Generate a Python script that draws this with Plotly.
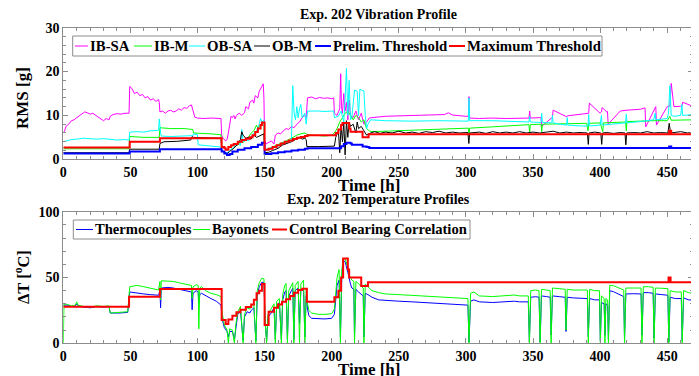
import plotly.graph_objects as go

# ---------------- Top: vibration RMS [g] ----------------
T_IBSA = [0,1,2,4,6,8,10,12,14,16,18,20,22,24,26,28,30,32,34,35,37,40,43,46,49,49.5,51,53,55,57,59,61,63,65,67,69,71,71.5,72,74,76,78,80,82,84,86,88,90,92,94,95.5,96,97,98,100,105,110,115,117.5,118,119,121,122,123,124,125,126,127,128,129,131,133,135,136,138,139,141,142,143,145,146,147,148,149,149.5,150,151,153,155,157,158,160,162,164,166,168,170,172,174,176,178,180,181,182,185,188,191,194,197,200,201.5,202,204,205,206,206.7,207.3,208,209,210,211,212,213,214,216,218,220,222,224,226,228,230,240,250,260,270,280,284,287,290,300,301.8,302.3,302.8,310,320,330,340,347,347.5,348,355,356,356.5,364,364.5,365,375,375.5,385,391,391.5,392,400,401,401.5,405,405.5,406,415,420,430,433,433.5,434,441,441.5,442,450,451,452,453,455,460,461,461.5,469]
V_IBSA = [6.0,6.5,7.5,8.0,8.8,9.0,9.5,10.0,10.5,10.8,10.6,10.3,10.5,10.0,9.5,9.2,8.8,9.3,9.0,9.8,10.2,10.4,10.3,10.5,10.5,16.6,16.2,15.0,15.3,14.5,14.8,14.0,14.3,13.5,13.8,13.2,13.6,13.0,10.8,11.0,10.5,11.0,11.2,10.8,11.0,11.5,11.2,11.8,11.6,12.2,12.4,11.8,11.0,9.6,9.4,9.3,9.4,9.3,9.3,5.5,4.8,4.2,4.5,6.0,7.5,9.8,9.5,10.0,9.2,10.0,10.5,10.0,10.6,12.0,11.5,13.0,13.5,12.8,14.5,14.0,15.5,16.0,16.5,17.2,14.0,4.5,3.5,3.8,4.2,3.5,5.5,6.0,5.8,6.5,7.0,6.8,7.5,7.2,8.0,8.5,9.5,10.0,9.5,14.0,14.2,13.8,14.1,13.9,14.0,13.8,14.0,10.5,10.0,10.8,11.5,19.5,12.0,10.5,15.0,11.0,13.0,9.0,13.5,10.0,9.5,11.0,9.0,10.5,8.0,8.5,9.4,9.5,9.8,9.9,10.0,10.1,10.2,10.2,10.6,10.1,9.8,9.8,14.3,9.4,9.3,9.4,9.3,9.4,9.4,11.0,9.4,9.5,9.5,7.5,9.5,9.6,11.2,9.7,9.9,10.3,10.4,10.5,12.8,10.5,10.8,11.8,10.8,10.9,8.0,11.0,11.2,11.4,11.7,11.7,7.4,11.8,12.0,7.8,12.0,12.1,12.1,17.3,12.0,12.1,12.1,13.0,12.1,12.2]

T_IBM = [0,49,49.5,60,71.5,72,80,90,96.5,97,110,117.5,118,120,122,124,126,128,130,132,134,136,138,140,142,144,145,146,148,149.5,150,153,156,160,163,166,170,174,177,180,182,190,195,200,202,204,206,208,210,212,214,216,218,220,222,224,226,228,230,250,270,300,301.8,302.3,302.8,320,344,347,347.5,348,356,356.5,357,370,390,391,391.5,400,402,402.5,419,419.5,420,440,450,452,453,469]
V_IBM = [2.4,2.4,5.2,5.0,5.0,7.2,7.0,7.0,6.8,6.0,5.8,5.6,3.0,2.6,2.2,2.8,3.0,3.5,3.2,4.0,3.8,4.5,5.0,6.0,6.5,7.8,7.0,7.5,8.0,8.5,2.2,2.4,2.8,3.3,3.8,4.2,4.8,5.5,5.8,6.0,5.6,5.4,5.3,5.5,6.0,7.0,8.5,9.5,10.5,11.0,10.0,9.0,10.0,9.5,8.5,9.0,7.0,6.5,6.3,6.5,6.8,7.1,7.1,5.5,7.1,7.4,7.8,7.9,6.0,7.9,8.0,6.3,8.0,8.1,8.2,6.5,8.2,8.3,6.3,8.3,8.5,6.5,8.6,8.8,8.8,9.8,8.9,9.0]

T_OBSA = [0,3,6,10,15,20,25,30,35,40,45,49,49.5,55,60,65,71,71.5,72.5,73,80,90,96.5,97,100,100.5,105,110,117.5,118,120,122,124,126,128,130,132,133,134,136,138,140,142,144,146,147,148,149.5,150,153,156,160,164,168,170,171,172,173,174,175,176,177,178,180,181,182,190,195,200,201.5,202,205,207,209,210,211,212,213,214,215,217,219,220,221,222,224,225,226,227,229,240,260,280,300,301.8,302.3,302.8,320,340,347,347.5,348,356,356.5,357,364,364.5,365,370,375,375.5,376,385,391,391.5,392,400,401,401.5,410,419,419.5,420,430,440,441,441.5,450,451,452,453,455,460,461,461.5,469]
V_OBSA = [4.0,4.3,4.5,4.6,4.8,4.7,4.6,4.7,4.5,4.4,4.5,4.4,6.2,6.3,6.2,6.5,6.6,9.2,6.0,5.3,5.2,5.3,5.4,5.8,5.6,3.3,3.2,3.0,2.8,2.0,1.6,1.4,2.0,2.5,3.0,3.5,3.2,6.8,4.0,4.5,4.2,5.0,6.0,6.5,8.0,9.3,8.5,9.0,2.0,2.3,2.8,3.0,3.5,4.0,4.5,16.8,10.5,9.0,12.0,9.5,11.5,12.5,9.5,10.5,8.0,11.0,11.0,10.9,11.0,11.0,9.5,9.8,11.0,8.5,14.0,20.7,10.0,18.0,9.0,9.5,15.8,15.5,10.0,16.0,15.8,15.6,10.0,7.0,8.0,9.0,8.8,8.7,8.8,8.7,8.7,14.0,8.8,8.8,8.6,8.5,9.8,8.5,8.4,10.5,8.4,8.3,10.0,8.3,8.0,7.8,9.5,7.8,7.6,7.6,10.2,7.6,7.8,10.0,7.8,8.0,8.3,10.3,8.3,8.6,9.0,10.5,9.0,9.3,10.5,16.8,10.0,9.8,10.0,12.5,10.0,10.2]

T_OBM = [0,49,49.5,71.5,72,75,85,95,96,97,105,117.5,118,120,122,124,127,130,132,133,134,136,138,140,142,144,146,148,149.5,150,153,156,160,163,166,170,173,176,178,180,181,181.5,190,200,202,203,205,206,207,208,209,210,211,212,213,214,216,218,219,220,222,224,226,229,232,236,240,245,250,255,260,265,270,275,280,285,290,295,301.5,302.2,302.8,310,315,320,325,330,335,340,345,350,355,360,365,370,375,380,385,390.5,391.2,391.8,396,400.5,401.2,401.8,405,410,415,418.5,419.2,419.8,425,430,435,440,445,450.5,451.5,452.5,456,460,465,469]
V_OBM = [1.5,1.5,2.3,2.3,3.6,4.0,4.1,4.4,5.2,5.0,4.9,4.8,2.0,1.6,1.2,1.8,2.5,3.5,4.5,6.3,5.5,4.8,5.0,4.6,5.5,5.0,5.3,5.6,5.8,1.5,1.6,2.0,2.5,3.2,3.5,4.0,4.5,5.0,4.6,4.8,4.5,2.9,2.9,2.9,3.0,5.0,6.5,1.5,7.8,4.0,8.5,1.0,8.8,5.0,8.5,7.5,8.0,6.0,8.5,7.0,7.5,6.5,5.5,6.0,6.3,5.9,6.2,6.0,6.4,6.0,6.2,5.9,6.3,6.1,6.4,6.0,6.2,6.0,6.1,3.6,6.0,6.2,5.9,6.3,6.0,6.2,6.0,6.3,6.0,6.2,6.0,6.2,6.4,6.0,6.2,6.0,6.1,6.0,3.4,6.0,6.2,6.0,3.4,6.0,6.1,5.9,6.1,6.0,3.3,6.0,6.1,6.0,6.3,6.0,6.1,6.0,8.2,6.0,6.1,6.3,6.0,6.1]

# step thresholds (value holds until the next time)
T_PRE = [0,49.5,72,118,120,122,124,126,130,135,140,145,148,150,155,160,165,170,175,180,182,207,209,211,214,215,223,226,228,451.5,453,469]
V_PRE = [1.3,1.8,2.3,1.8,1.3,1.0,1.2,1.8,2.2,2.5,2.8,3.3,3.8,1.2,1.4,1.6,1.8,2.0,2.2,2.4,2.5,3.0,3.5,3.8,3.6,3.3,2.9,2.8,2.6,2.9,2.6,2.6]

T_MAX = [0,49.5,72,118,120,121,123,125,127,130,133,136,139,141,143,145,147,148,150,153,156,159,162,165,168,171,174,177,180,182,203,205,207,208,213,214,223,227.5,451.5,453,469]
V_MAX = [2.7,4.0,4.8,2.8,2.5,2.2,2.8,3.2,3.5,4.0,4.4,4.7,5.0,5.5,6.2,7.0,7.8,8.4,2.2,2.4,2.8,3.2,3.6,4.0,4.3,4.6,4.9,5.1,5.3,5.5,6.0,6.8,7.8,8.3,7.0,6.3,5.0,5.7,6.5,5.7,5.7]

# ---------------- Bottom: temperature difference [C] ----------------
T_BAY = [0,0.5,3,6,9,10,11,15,20,25,30,34,35,42,48,49.5,55,60,65,71,72,72.5,73,78,82,86,90,94,95.5,96,96.7,99,100.5,101,101.7,103,106,110,114,117.5,118.5,120,122,123,124,126,127.5,128.5,130,132,133,134,135,137,139,140,142,143.5,144.5,146,148,149.5,150.5,151.5,152.5,155,157,158,159,161,162.5,163.5,165,166,167,168,170,171,171.8,172.8,175,176,177,179,180,181,182,183,185,190,195,200,202,204,205.5,206.5,207.5,208.5,210,212,213,214,215,216.5,217,218,220,222,223.5,224,225,227,230,235,240,250,260,270,280,290,300,301.5,302.3,303.5,306,310,320,330,336,340,346.5,347.3,348.3,352,354.5,355.3,356.3,360,362.8,363.5,364.5,370,374,374.6,375.5,380,386,390.5,391.2,392.2,396,399.5,400.2,401,403,403.6,404.3,405.6,406.2,407.2,410,415,417.6,418.2,419.2,425,430.5,431.2,432.2,436,439.5,440.2,441.2,446,450.5,451.2,452.2,456,460.5,461.2,462.2,466,469]
V_BAY = [0,30,29.5,28.5,29,31.5,29,28,27.5,28.5,28,28.5,23,23.5,24,43,44,43,42,40.5,47,33,47.5,47.5,47,46,45,44.5,44,34,43,44.5,44,11,42,43,40,38,37,35.5,22,14,10,0,11,10,0,14,24,28,16,0,22,27,26,28,30,0,40,46,49.5,49,15,0,22,26,30,0,32,34,0,37,44,45.5,0,40,44,46,0,44,47,0,45,48,0,40,30,25,23,22,22,22.5,26,50,56,0,55,64.5,64,58,52,50,48,47,0,47,45,43,42,0,45,43,40,38.5,37.5,37,36.5,36,35.5,35,34.2,34,0,38,39,36,35.5,36,36.7,36,36,0,40,40.5,40,0,41,40.5,40,0,42,41.5,41,10,41,40.5,40.5,40.5,0,41,40,40,0,36,34,0,34,33,0,44,43.8,41.5,40.5,0,42,42,42,0,43,43,42.5,0,42,41.8,41.5,0,40,39,39,0,40,38.5,38]

T_TC = [0,3,6,9,10,11,15,20,25,30,34,35,42,48,49.5,55,60,65,71,72,72.5,73,78,82,86,90,94,95.5,96,96.7,99,100.5,101,101.7,103,106,110,114,117.5,118.5,120,122,123,124,126,127.5,128.5,130,132,133,134,135,137,139,140,142,143.5,144.5,146,148,149.5,150.5,151.5,152.5,155,157,158,159,161,162.5,163.5,165,166,167,168,170,171,171.8,172.8,175,176,177,179,180,181,182,183,185,190,195,200,202,204,205.5,206.5,207.5,208.5,210,212,213,214,215,216.5,217,218,220,222,223.5,224,225,227,230,235,240,250,260,270,280,290,300,301.5,302.3,303.5,306,310,320,330,336,340,346.5,347.3,348.3,352,354.5,355.3,356.3,360,362.8,363.5,364.5,370,374,374.6,375.5,380,386,390.5,391.2,392.2,396,399.5,400.2,401,403,403.6,404.3,405.6,406.2,407.2,410,415,417.6,418.2,419.2,425,430.5,431.2,432.2,436,439.5,440.2,441.2,446,450.5,451.2,452.2,456,460.5,461.2,462.2,466,469]
V_TC = [29,29,28,28.5,30,28.5,27.5,27,28,27.5,28,23,23,23.5,39,38.5,37.5,37,36.5,40,27,42,42.5,42,41,40,39.5,39,25.5,38,40,39,30,37,38,36,34,32,29,18,12,9,5,9,9,3,12,22,25,15,2,20,24,23,25,27,2,36,43,46.5,46,14,2,20,23,27,3,29,31,3,33,39,40,3,36,40,42,3,40,42,15,40,42,5,36,26,21,19,18.5,18.5,19,22,44,48,5,50,63,62,54,48,45,42,41,5,41,39,37,36,5,38,37,35,33,32.5,32,31.5,31,30.5,30,29.1,29,1,32,33,31.5,31,31.5,32,31.5,31.5,1,35,35.4,35,1,36,35.5,35,6.3,36,35.4,35,9,35,34.5,34.2,34,5,34,33,33,2,31,30,6,30,29,3,40,39.2,37,35.5,3,37.5,37.7,37.5,6,38.5,38.5,38,4,37.5,37,36.5,1,35,34,34,2,34.5,33,32.9]

T_CBC = [0,49,72,118,121,123,126,129,132,136,140,142,144,146,148,150,153,157,160,163,166,169,172,175,178,181.5,202,205,207,208.5,212,213,222,227,451,452.5,469]
V_CBC = [27.8,35.4,41.3,17.7,14.7,18.0,21.0,23.5,25.5,27.5,29.5,33.0,38.0,40.0,45.0,14.0,24.0,27.0,29.5,31.5,33.5,36.0,38.5,40.5,41.5,31.5,35.0,40.0,50.0,64.5,56.0,50.0,43.5,46.3,50.0,46.3,46.3]

X_TICKS = [0, 50, 100, 150, 200, 250, 300, 350, 400, 450]
Y1_TICKS = [0, 10, 20, 30]
Y2_TICKS = [0, 50, 100]

FONT = "Liberation Serif"
W, H = 699, 376
OFF = 8  # the page body places the figure 8 px from the window corner
GREY = "#8c8c8c"

fig = go.Figure()

def add(x, y, name, color, width, axis, shape="linear"):
    fig.add_trace(go.Scatter(x=x, y=y, name=name, mode="lines", showlegend=False,
                             line=dict(color=color, width=width, shape=shape),
                             xaxis="x" if axis == 1 else "x2",
                             yaxis="y" if axis == 1 else "y2"))

TOP = [("IB-SA", "#ff00ff", 1, T_IBSA, V_IBSA, "linear"),
       ("IB-M", "#00ff00", 1, T_IBM, V_IBM, "linear"),
       ("OB-SA", "#00ffff", 1, T_OBSA, V_OBSA, "linear"),
       ("OB-M", "#000000", 1, T_OBM, V_OBM, "linear"),
       ("Prelim. Threshold", "#0000ff", 2, T_PRE, V_PRE, "hv"),
       ("Maximum Threshold", "#ff0000", 2, T_MAX, V_MAX, "hv")]
BOT = [("Thermocouples", "#0000ff", 1, T_TC, V_TC, "linear"),
       ("Bayonets", "#00ff00", 1, T_BAY, V_BAY, "linear"),
       ("Control Bearing Correlation", "#ff0000", 2, T_CBC, V_CBC, "hv")]

for name, c, w, t, v, s in TOP:
    add(t, v, name, c, w, 1, s)
for name, c, w, t, v, s in BOT:
    add(t, v, name, c, w, 2, s)

def px(x):
    return (x - OFF) / W

def py(y):
    return 1 - (y - OFF) / H

x_dom = [px(63.3), px(692.7)]
top_dom = [py(159.3), py(27.7)]
bot_dom = [py(343.3), py(211.7)]

axis_common = dict(showline=True, mirror="allticks", linecolor=GREY, linewidth=1,
                   ticks="inside", ticklen=5, tickcolor=GREY, showgrid=False,
                   zeroline=False, automargin=False,
                   tickfont=dict(family=FONT, size=14, color="black", weight="bold"))

xa = dict(axis_common, range=[0, 469], tickvals=X_TICKS, domain=x_dom,
          minor=dict(ticks="inside", ticklen=3, dtick=10, tickcolor=GREY, showgrid=False))

fig.update_layout(
    width=W, height=H, margin=dict(l=0, r=0, t=0, b=0, autoexpand=False),
    paper_bgcolor="white", plot_bgcolor="white",
    font=dict(family=FONT, size=14, color="black"),
    xaxis=dict(xa, anchor="y"),
    yaxis=dict(axis_common, range=[0, 30], tickvals=Y1_TICKS, domain=top_dom, anchor="x",
               minor=dict(ticks="inside", ticklen=3, dtick=2, tickcolor=GREY, showgrid=False)),
    xaxis2=dict(xa, anchor="y2"),
    yaxis2=dict(axis_common, range=[0, 100], tickvals=Y2_TICKS, domain=bot_dom, anchor="x2",
                minor=dict(ticks="inside", ticklen=3, dtick=10, tickcolor=GREY, showgrid=False)),
    showlegend=False,
)

# legend boxes drawn in layout (paper) space
def legend(entries, box, yc, items, fsize):
    bx0, bx1, by0, by1 = box
    fig.add_shape(type="rect", xref="paper", yref="paper", x0=px(bx0), x1=px(bx1),
                  y0=py(by1), y1=py(by0), line=dict(color=GREY, width=1),
                  fillcolor="white", layer="above")
    for (name, c, w, *_), (lx0, lx1, tx) in zip(entries, items):
        fig.add_shape(type="line", xref="paper", yref="paper", x0=px(lx0), x1=px(lx1),
                      y0=py(yc), y1=py(yc), line=dict(color=c, width=w), layer="above")
        fig.add_annotation(xref="paper", yref="paper", x=px(tx), y=py(yc), text="<b>" + name + "</b>",
                           showarrow=False, xanchor="left", yanchor="middle",
                           font=dict(family=FONT, size=fsize, color="black"))

legend(TOP, (72.7, 602, 36, 56), 46,
       [(75, 88, 88), (134, 152, 152), (189, 205, 205), (254, 270, 270), (315, 331, 331), (449, 465, 465)], 14.8)
legend(BOT, (73.3, 470, 220, 239), 229.5,
       [(76, 93, 93), (193, 210, 210), (272, 287, 287)], 14.6)

ann = [
    dict(text="<b>Exp. 202 Vibration Profile</b>", x=378, y=15, size=14),
    dict(text="<b>Time [h]</b>", x=369, y=185, size=17),
    dict(text="<b>Exp. 202 Temperature Profiles</b>", x=378, y=200, size=14),
    dict(text="<b>Time [h]</b>", x=369, y=369, size=17),
    dict(text="<b>RMS [g]</b>", x=22, y=98, size=17, textangle=-90),
    dict(text="<b>ΔT [<sup>o</sup>C]</b>", x=22, y=277, size=16.5, textangle=-90),
]
for a in ann:
    fig.add_annotation(xref="paper", yref="paper", showarrow=False,
                       xanchor="center", yanchor="middle", text=a["text"],
                       x=px(a["x"]), y=py(a["y"]), textangle=a.get("textangle", 0),
                       font=dict(family=FONT, size=a["size"], color="black"))

fig.write_html("out.html")
